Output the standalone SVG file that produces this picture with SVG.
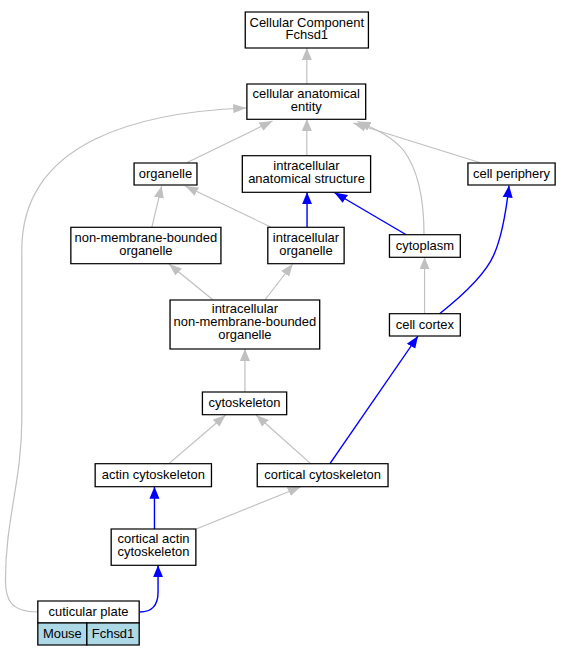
<svg xmlns="http://www.w3.org/2000/svg" width="568" height="656" viewBox="0 0 568 656">
<style>
.box{fill:#fff;stroke:#000;stroke-width:1.2}
.sp{fill:#add8e6;stroke:#000;stroke-width:1.2}
text{font-family:"Liberation Sans",Arial,sans-serif;font-size:11.9px;fill:#000;text-anchor:middle}
.g{fill:none;stroke:#c0c0c0;stroke-width:1.1}
.b{fill:none;stroke:#0000ff;stroke-width:1.3}
</style>
<defs>
<marker id="ag" viewBox="0 0 13 10" refX="13" refY="5" markerWidth="12" markerHeight="10" markerUnits="userSpaceOnUse" orient="auto"><path d="M0,0 L13,5 L0,10 z" fill="#c0c0c0"/></marker>
<marker id="ab" viewBox="0 0 13 10" refX="13" refY="5" markerWidth="12" markerHeight="10" markerUnits="userSpaceOnUse" orient="auto"><path d="M0,0 L13,5 L0,10 z" fill="#0000ff"/></marker>
</defs>
<rect width="568" height="656" fill="#fff"/>
<g transform="scale(1.09,1)">
<g id="edges">
<path class="g" marker-end="url(#ag)" d="M281.5,84 L281.5,48"/>
<path class="g" marker-end="url(#ag)" d="M171.7,162.5 L250,121"/>
<path class="g" marker-end="url(#ag)" d="M281.5,156 L281.5,119"/>
<path class="g" marker-end="url(#ag)" d="M440,162.5 L324,123"/>
<path class="g" marker-end="url(#ag)" d="M389,234.7 C389,200 384,170 370,150 C360,137 345,129 328,121.5"/>
<path class="g" marker-end="url(#ag)" d="M34.7,612 C10,612 5,600 5,580 C5,520 20,480 20,420 L20,250 C20,140 130,112 226,108"/>
<path class="g" marker-end="url(#ag)" d="M139.3,227.3 L148.3,186"/>
<path class="g" marker-end="url(#ag)" d="M248.3,227 L170,186"/>
<path class="b" marker-end="url(#ab)" d="M281.7,227.3 L281.7,192.3"/>
<path class="b" marker-end="url(#ab)" d="M372.7,234.7 L306.7,192.5"/>
<path class="b" marker-end="url(#ab)" d="M403.3,313.7 C425,295 445,275 453,255 C460,238 464,215 467,185.5"/>
<path class="g" marker-end="url(#ag)" d="M389.5,313.7 L389.5,257.3"/>
<path class="g" marker-end="url(#ag)" d="M195,299.5 L155,264"/>
<path class="g" marker-end="url(#ag)" d="M243.3,299.5 L268.5,264"/>
<path class="g" marker-end="url(#ag)" d="M224.7,392 L224.7,349"/>
<path class="g" marker-end="url(#ag)" d="M155,463.7 L207,415"/>
<path class="g" marker-end="url(#ag)" d="M285,463.7 L235,415"/>
<path class="b" marker-end="url(#ab)" d="M302.7,463.7 L383.5,336"/>
<path class="b" marker-end="url(#ab)" d="M141.7,529 L141.7,486.7"/>
<path class="g" marker-end="url(#ag)" d="M180,529 L276,486.7"/>
<path class="b" marker-end="url(#ab)" d="M128.3,612 C140,612 145,605 145,592 L145,565.3"/>
</g>
<g id="n_cc"><rect class="box" x="225" y="12" width="113" height="36"/><text x="281.5" y="26.7">Cellular Component</text><text x="281.5" y="39.3">Fchsd1</text></g>
<g id="n_cae"><rect class="box" x="226.5" y="84" width="109" height="35.3"/><text x="281" y="98.3">cellular anatomical</text><text x="281" y="111.3">entity</text></g>
<g id="n_organelle"><rect class="box" x="123" y="163" width="57.7" height="22"/><text x="151.8" y="178">organelle</text></g>
<g id="n_ias"><rect class="box" x="222.3" y="155.7" width="117.7" height="36.6"/><text x="281.2" y="170.3">intracellular</text><text x="281.2" y="183.3">anatomical structure</text></g>
<g id="n_cp"><rect class="box" x="429.3" y="163" width="80" height="22"/><text x="469.3" y="178">cell periphery</text></g>
<g id="n_nmbo"><rect class="box" x="65" y="227.3" width="137.7" height="36.4"/><text x="133.8" y="242">non-membrane-bounded</text><text x="133.8" y="255">organelle</text></g>
<g id="n_io"><rect class="box" x="245.7" y="227.3" width="70" height="36.4"/><text x="280.7" y="242">intracellular</text><text x="280.7" y="255">organelle</text></g>
<g id="n_cytoplasm"><rect class="box" x="357.3" y="234.7" width="65" height="22.6"/><text x="389.8" y="250">cytoplasm</text></g>
<g id="n_inmbo"><rect class="box" x="156" y="300" width="137.3" height="49"/><text x="224.7" y="313.3">intracellular</text><text x="224.7" y="326.5">non-membrane-bounded</text><text x="224.7" y="339.5">organelle</text></g>
<g id="n_cellcortex"><rect class="box" x="357.3" y="313.7" width="65" height="22.3"/><text x="389.8" y="328.8">cell cortex</text></g>
<g id="n_cytoskeleton"><rect class="box" x="185.7" y="392" width="77.3" height="22.7"/><text x="224.3" y="407.3">cytoskeleton</text></g>
<g id="n_actin"><rect class="box" x="87.3" y="463.7" width="106.7" height="23"/><text x="140.7" y="479">actin cytoskeleton</text></g>
<g id="n_cortcyto"><rect class="box" x="236" y="463.7" width="120" height="23"/><text x="296" y="479">cortical cytoskeleton</text></g>
<g id="n_cortactin"><rect class="box" x="102" y="529" width="77.7" height="36.3"/><text x="140.8" y="543.5">cortical actin</text><text x="140.8" y="556.5">cytoskeleton</text></g>
<g id="n_cuticular"><rect class="box" x="34.7" y="601" width="93" height="22"/><text x="81.2" y="616">cuticular plate</text><rect class="sp" x="34.7" y="623" width="45" height="22"/><text x="57.2" y="638">Mouse</text><rect class="sp" x="79.7" y="623" width="48" height="22"/><text x="103.7" y="638">Fchsd1</text></g>
</g>
</svg>
